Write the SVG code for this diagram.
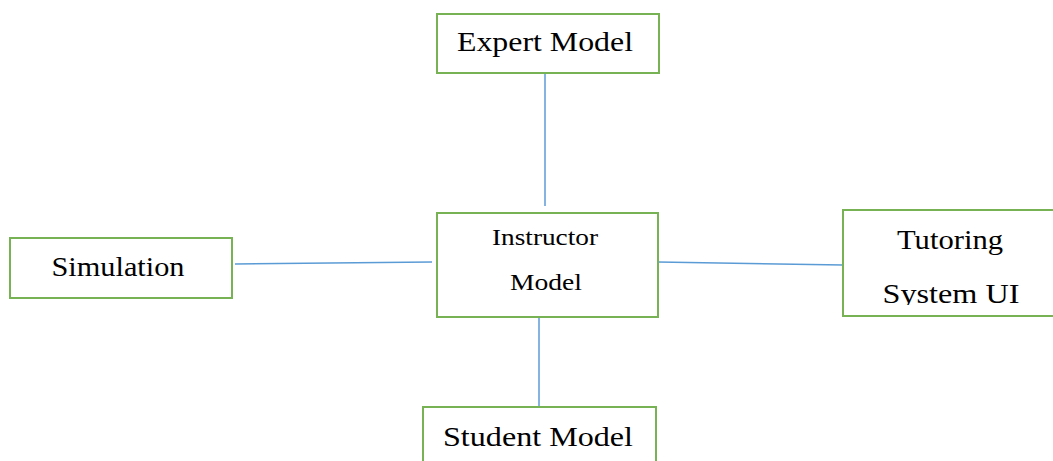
<svg xmlns="http://www.w3.org/2000/svg" width="1053" height="461" viewBox="0 0 1053 461">
<defs>
<clipPath id="clipTut"><rect x="843" y="210" width="212" height="95"/></clipPath>
</defs>
<style>
.box{fill:#fff;stroke:#77b255;stroke-width:2}
.t{font-family:"Liberation Serif","Times New Roman",serif;fill:#000;text-anchor:middle}
.lg{font-size:28px}
.sm{font-size:23px}
.c{stroke:#5b9bd5;stroke-width:1.5;fill:none}
</style>
<rect width="1053" height="461" fill="#fff"/>
<g id="connectors">
<line class="c" x1="545" y1="74" x2="545" y2="206"/>
<line class="c" x1="539" y1="306" x2="539" y2="407"/>
<line class="c" x1="235" y1="264" x2="432" y2="262"/>
<line class="c" x1="658" y1="262" x2="843" y2="265"/>
</g>
<g id="expert">
<rect class="box" x="437" y="14" width="222" height="59"/>
<text class="t lg" x="545" y="51" textLength="176" lengthAdjust="spacingAndGlyphs">Expert Model</text>
</g>
<g id="instructor">
<rect class="box" x="437" y="213" width="221" height="104"/>
<text class="t sm" x="545" y="245" textLength="106" lengthAdjust="spacingAndGlyphs">Instructor</text>
<text class="t sm" x="546" y="290" textLength="72" lengthAdjust="spacingAndGlyphs">Model</text>
</g>
<g id="simulation">
<rect class="box" x="10" y="238" width="222" height="60"/>
<text class="t lg" x="118" y="276" textLength="133" lengthAdjust="spacingAndGlyphs">Simulation</text>
</g>
<g id="tutoring">
<rect class="box" x="843" y="210" width="212" height="106"/>
<text class="t lg" x="950" y="249" textLength="106" lengthAdjust="spacingAndGlyphs">Tutoring</text>
<text class="t lg" x="951" y="303" textLength="137" lengthAdjust="spacingAndGlyphs" clip-path="url(#clipTut)">System UI</text>
</g>
<g id="student">
<rect class="box" x="423" y="407" width="233" height="70"/>
<text class="t lg" x="538" y="446" textLength="190" lengthAdjust="spacingAndGlyphs">Student Model</text>
</g>
</svg>
